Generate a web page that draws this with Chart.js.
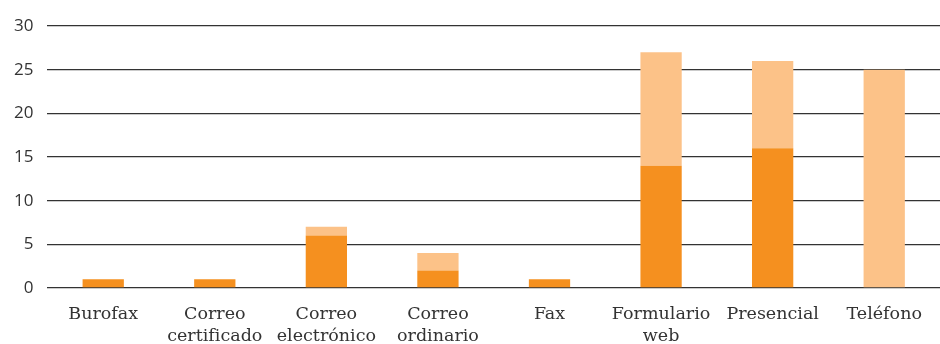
<!DOCTYPE html>
<html lang="es">
<head>
    <meta charset="UTF-8">
    <title>Canales</title>
    <script src="https://cdn.jsdelivr.net/npm/chart.js"></script>
    <style>
        body {
            margin: 0;
            background-color: #fff;
        }
        .chart-box {
            width: 940px;
            height: 344px;
        }
    </style>
</head>
<body>
    <div class="chart-box">
        <canvas id="myChart" width="940" height="344"></canvas>
    </div>

    <script>
        const categories = [
            'Burofax',
            ['Correo', 'certificado'],
            ['Correo', 'electrónico'],
            ['Correo', 'ordinario'],
            'Fax',
            ['Formulario', 'web'],
            'Presencial',
            'Teléfono'
        ];
        const darkValues = [1, 1, 6, 2, 1, 14, 16, 0];
        const lightValues = [0, 0, 1, 2, 0, 13, 10, 25];
        const yTicks = [0, 5, 10, 15, 20, 25, 30];

        const ctx = document.getElementById('myChart').getContext('2d');
        const myChart = new Chart(ctx, {
            type: 'bar',
            data: {
                labels: categories,
                datasets: [
                    {
                        data: darkValues,
                        backgroundColor: '#F5901F',
                        barPercentage: 0.37,
                        categoryPercentage: 1
                    },
                    {
                        data: lightValues,
                        backgroundColor: '#FCC288',
                        barPercentage: 0.37,
                        categoryPercentage: 1
                    }
                ]
            },
            options: {
                responsive: false,
                animation: false,
                layout: { padding: { top: 26, right: 0, left: 0, bottom: 0 } },
                plugins: {
                    legend: { display: false },
                    tooltip: { enabled: false }
                },
                scales: {
                    x: {
                        stacked: true,
                        // fixed band for the two-line category labels
                        afterFit: (axis) => { axis.height = 56; },
                        grid: { display: false },
                        border: { display: false },
                        ticks: {
                            color: '#333',
                            padding: 8,
                            maxRotation: 0,
                            autoSkip: false,
                            font: { family: 'DejaVu Serif', size: 17.5, lineHeight: 1.25 }
                        }
                    },
                    y: {
                        stacked: true,
                        min: 0,
                        max: 30,
                        afterBuildTicks: (axis) => {
                            axis.ticks = yTicks.map(v => ({ value: v }));
                        },
                        grid: {
                            color: '#333',
                            lineWidth: 1.3,
                            drawTicks: false
                        },
                        border: { display: false },
                        ticks: {
                            color: '#333',
                            padding: 14,
                            font: { family: 'Open Sans', size: 17 }
                        }
                    }
                }
            }
        });
    </script>
</body>
</html>
